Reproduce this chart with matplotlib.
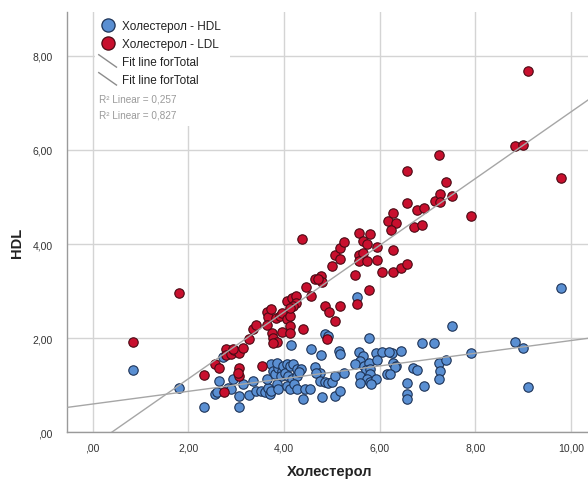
import matplotlib
matplotlib.use("Agg")
import matplotlib.pyplot as plt
from matplotlib.lines import Line2D
from matplotlib.legend_handler import HandlerBase
from matplotlib.patches import Rectangle

plt.rcParams['font.family'] = ['Liberation Sans', 'DejaVu Sans']

# Холестерол vs HDL
hdl_x = [0.84, 1.81, 2.33, 2.64, 2.56, 2.59, 2.73, 2.82, 2.89, 2.94, 3.05, 3.05,
         3.15, 3.26, 3.35, 3.42, 3.51, 3.60, 3.67, 3.71, 3.74, 3.65, 3.74, 3.77,
         3.81, 3.88, 3.95, 3.86, 3.93, 3.99, 4.06, 4.02, 4.13, 4.20, 4.09, 4.16,
         4.27, 4.28, 3.85, 3.88, 4.06, 4.13, 4.21, 4.27, 4.14, 4.35, 4.32, 4.44,
         4.55, 4.39, 4.56, 4.77, 4.86, 4.93, 5.16, 5.17, 4.65, 4.76, 4.67, 4.76,
         4.86, 4.93, 5.00, 5.07, 5.26, 4.80, 5.07, 5.17, 5.77, 5.56, 5.65, 5.59,
         5.49, 5.68, 5.77, 5.72, 5.80, 5.59, 5.79, 5.74, 5.80, 5.93, 5.82, 5.59,
         5.93, 6.05, 5.95, 6.16, 6.26, 6.29, 6.35, 5.52, 6.44, 6.32, 6.22, 6.71,
         6.79, 6.88, 7.13, 7.25, 7.39, 7.27, 7.25, 7.51, 7.91, 6.58, 6.57, 6.58,
         6.92, 8.83, 9.01, 9.11, 9.79, 6.20]
hdl_y = [1.33, 0.95, 0.54, 1.08, 0.81, 0.86, 1.59, 0.95, 0.93, 1.13, 0.78, 0.54,
         1.02, 0.79, 1.09, 0.88, 0.88, 0.86, 0.95, 0.81, 0.88, 1.13, 1.45, 1.31,
         1.24, 1.36, 1.31, 1.48, 1.20, 1.41, 1.45, 1.27, 1.41, 1.45, 1.20, 1.13,
         1.34, 1.20, 1.02, 0.92, 0.99, 0.92, 1.02, 0.92, 1.85, 1.34, 1.28, 0.92,
         0.92, 0.71, 1.78, 1.64, 2.08, 2.05, 1.73, 1.67, 1.38, 1.27, 1.26, 1.09,
         1.06, 1.04, 1.06, 1.20, 1.26, 0.74, 0.78, 0.88, 2.01, 1.71, 1.62, 1.52,
         1.46, 1.41, 1.48, 1.33, 1.34, 1.20, 1.24, 1.13, 1.07, 1.14, 1.02, 1.04,
         1.69, 1.71, 1.54, 1.24, 1.69, 1.48, 1.41, 2.87, 1.72, 1.38, 1.24, 1.36,
         1.33, 1.89, 1.89, 1.48, 1.54, 1.31, 1.13, 2.25, 1.69, 1.04, 0.81, 0.71,
         0.99, 1.91, 1.80, 0.97, 3.07, 1.71]

# Холестерол vs LDL
ldl_x = [0.84, 1.81, 2.33, 2.56, 2.65, 2.75, 2.78, 2.78, 2.89, 2.96, 3.05, 3.15,
         3.05, 3.05, 3.26, 3.35, 3.42, 3.54, 3.64, 3.67, 3.64, 3.74, 3.75, 3.78,
         3.85, 3.77, 3.83, 3.92, 3.97, 4.06, 3.95, 4.13, 4.13, 4.13, 4.06, 4.16,
         4.25, 4.25, 4.20, 4.13, 2.93, 3.03, 4.37, 4.39, 4.46, 4.56, 4.65, 4.77,
         4.79, 4.72, 4.86, 4.95, 5.07, 4.90, 5.17, 5.00, 5.07, 5.17, 5.17, 5.26,
         5.52, 5.49, 5.77, 5.57, 5.80, 5.66, 5.73, 5.58, 5.66, 5.58, 5.73, 5.94,
         5.95, 6.05, 6.29, 6.29, 6.44, 6.58, 6.18, 6.35, 6.23, 6.28, 6.58, 6.58,
         6.72, 6.89, 6.79, 6.92, 7.15, 7.27, 7.27, 7.25, 7.38, 7.51, 7.91, 8.83,
         9.01, 9.11, 9.79]
ldl_y = [1.91, 2.97, 1.21, 1.46, 1.36, 0.85, 1.76, 1.65, 1.67, 1.74, 1.69, 1.80,
         1.36, 1.20, 1.99, 2.20, 2.29, 1.41, 2.56, 2.44, 2.27, 2.61, 2.12, 2.01,
         1.92, 1.89, 2.42, 2.47, 2.54, 2.40, 2.13, 2.26, 2.12, 2.47, 2.79, 2.86,
         2.89, 2.75, 2.68, 2.65, 1.78, 1.27, 4.10, 2.19, 3.09, 2.89, 3.26, 3.32,
         3.19, 3.25, 2.68, 2.56, 2.36, 1.99, 2.68, 3.53, 3.76, 3.69, 3.92, 4.04,
         2.72, 3.34, 3.02, 4.23, 4.22, 4.06, 4.01, 3.76, 3.81, 3.64, 3.64, 3.93,
         3.66, 3.40, 3.88, 3.40, 3.49, 3.58, 4.48, 4.44, 4.29, 4.67, 5.56, 4.87,
         4.36, 4.41, 4.73, 4.77, 4.91, 5.06, 4.89, 5.89, 5.32, 5.03, 4.60, 6.09,
         6.11, 7.68, 5.40]

# Linear fits for total (intercept, slope) and their R²
hdl_fit = (0.601, 0.1348)
ldl_fit = (-0.281, 0.7086)
r2_labels = ["R\u00b2 Linear = 0,257", "R\u00b2 Linear = 0,827"]

series_labels = ["Холестерол - HDL", "Холестерол - LDL"]
fit_label = "Fit line forTotal"
x_ticks = [0, 2, 4, 6, 8, 10]
x_ticklabels = [",00", "2,00", "4,00", "6,00", "8,00", "10,00"]
y_ticks = [0, 2, 4, 6, 8]
y_ticklabels = [",00", "2,00", "4,00", "6,00", "8,00"]

blue_fill, blue_edge = "#5a8fd2", "#1d3357"
red_fill, red_edge = "#c8102e", "#4a0a14"
fit_color = "#a6a6a6"

fig = plt.figure(figsize=(5.88, 4.89), dpi=100)
ax = fig.add_axes([0.1134, 0.1139, 0.8866, 0.8595])

ax.set_xlim(-0.544, 10.36)
ax.set_ylim(0, 8.93)

ax.scatter(hdl_x, hdl_y, s=46, c=blue_fill, edgecolors=blue_edge,
           linewidths=0.8, zorder=3)
ax.scatter(ldl_x, ldl_y, s=46, c=red_fill, edgecolors=red_edge,
           linewidths=0.8, zorder=3)

for b0, b1 in (hdl_fit, ldl_fit):
    ax.axline((0, b0), slope=b1, color=fit_color, lw=1.0, zorder=4)

ax.set_xticks(x_ticks)
ax.set_xticklabels(x_ticklabels)
ax.set_yticks(y_ticks)
ax.set_yticklabels(y_ticklabels)
ax.tick_params(length=0, labelsize=7.5, labelcolor="#333333")
ax.tick_params(axis="y", pad=10)
ax.tick_params(axis="x", pad=7)
ax.grid(True, color="#d4d4d4", lw=1.0, zorder=0)
ax.set_axisbelow(True)

for side in ("top", "right"):
    ax.spines[side].set_visible(False)
for side in ("left", "bottom"):
    ax.spines[side].set_color("#9a9a9a")
    ax.spines[side].set_linewidth(1.0)

ax.set_xlabel("Холестерол", fontsize=10.5, fontweight="bold", color="#222222")
ax.set_ylabel("HDL", fontsize=10.5, fontweight="bold", color="#222222")
ax.xaxis.set_label_coords(0.505, -0.075)
ax.yaxis.set_label_coords(-0.082, 0.453)

# white panel behind the legend block
ax.add_patch(Rectangle((0.054, 0.729), 0.26, 0.271, transform=ax.transAxes,
                       facecolor="white", edgecolor="none", zorder=2))


class DiagonalHandler(HandlerBase):
    def create_artists(self, legend, orig_handle, xdescent, ydescent,
                       width, height, fontsize, trans):
        ln = Line2D([-xdescent, -xdescent + width],
                    [-ydescent + height + 1.5, -ydescent - 1.5],
                    color=orig_handle.get_color(), lw=orig_handle.get_linewidth())
        ln.set_transform(trans)
        return [ln]


h_blue = Line2D([], [], ls="none", marker="o", markersize=9.5,
                markerfacecolor=blue_fill, markeredgecolor=blue_edge, markeredgewidth=0.9)
h_red = Line2D([], [], ls="none", marker="o", markersize=9.5,
               markerfacecolor=red_fill, markeredgecolor=red_edge, markeredgewidth=0.9)
h_fit1 = Line2D([], [], color="#8c8c8c", lw=1.0)
h_fit2 = Line2D([], [], color="#8c8c8c", lw=1.0)

leg = ax.legend([h_blue, h_red, h_fit1, h_fit2],
                [series_labels[0], series_labels[1], fit_label, fit_label],
                handler_map={h_fit1: DiagonalHandler(), h_fit2: DiagonalHandler()},
                loc="upper left", bbox_to_anchor=(0.057, 0.986), frameon=False,
                fontsize=8.5, handlelength=1.5, handletextpad=0.5,
                labelspacing=0.5, borderaxespad=0.0, borderpad=0.2)
leg.set_zorder(5)
for t in leg.get_texts():
    t.set_color("#222222")

ax.text(0.062, 0.795, r2_labels[0], transform=ax.transAxes, fontsize=7.2,
        color="#9a9a9a", va="center", ha="left", zorder=5)
ax.text(0.062, 0.757, r2_labels[1], transform=ax.transAxes, fontsize=7.2,
        color="#9a9a9a", va="center", ha="left", zorder=5)

fig.savefig("out.png", dpi=100)
